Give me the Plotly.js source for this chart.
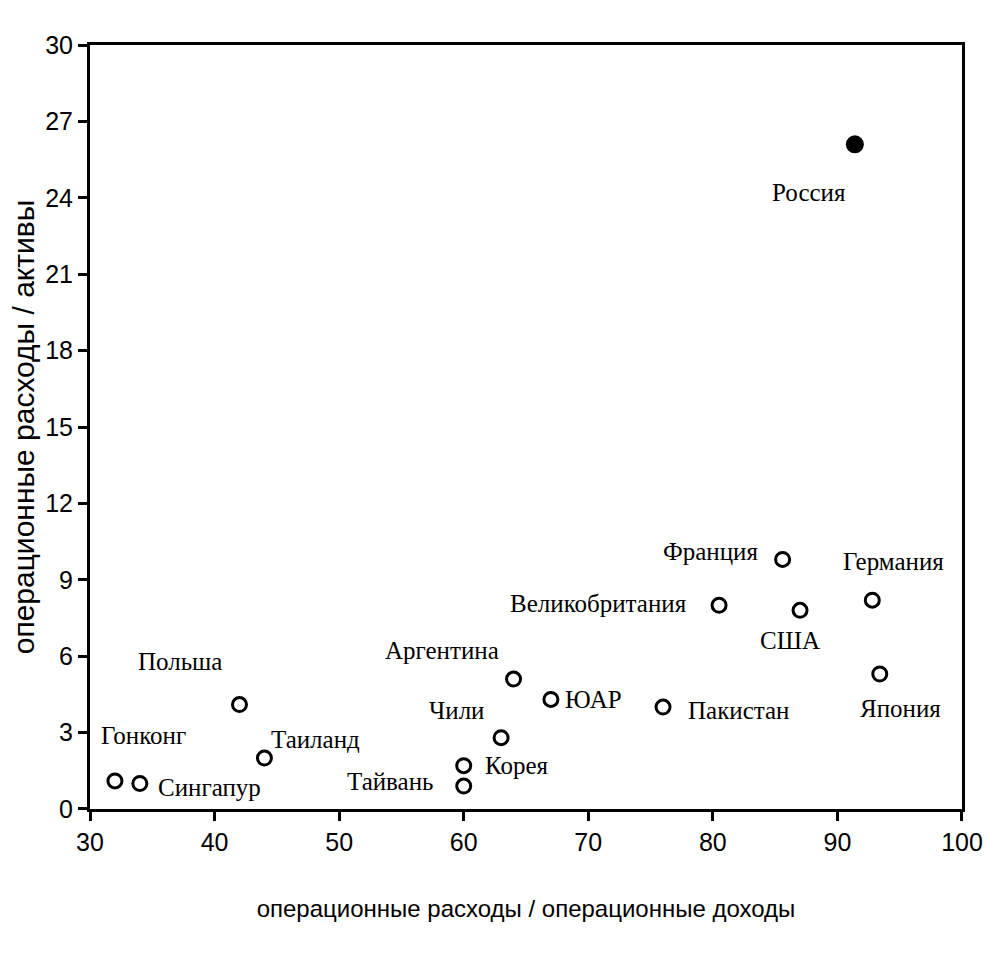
<!DOCTYPE html>
<html>
<head>
<meta charset="utf-8">
<script src="https://cdn.plot.ly/plotly-3.0.1.min.js"></script>
<style>html,body{margin:0;padding:0;background:#fff;}#chart{width:988px;height:958px;}</style>
</head>
<body>
<div id="chart"></div>
<script>
// ---- data ----
const countries = ['Гонконг','Сингапур','Польша','Таиланд','Тайвань','Корея','Чили','Аргентина','ЮАР','Пакистан','Великобритания','Франция','США','Германия','Япония'];
const costIncome = [32, 34, 42, 44, 60, 60, 63, 64, 67, 76, 80.5, 85.6, 87, 92.8, 93.4];
const costAssets = [1.1, 1.0, 4.1, 2.0, 0.9, 1.7, 2.8, 5.1, 4.3, 4.0, 8.0, 9.8, 7.8, 8.2, 5.3];
const russiaName = ['Россия'];
const russiaCostIncome = [91.4];
const russiaCostAssets = [26.1];
const xTicks = [30, 40, 50, 60, 70, 80, 90, 100];
const yTicks = [0, 3, 6, 9, 12, 15, 18, 21, 24, 27, 30];
const xTitle = 'операционные расходы / операционные доходы';
const yTitle = 'операционные расходы / активы';

// ---- label placement (style only) ----
const place = {
  'Россия': ['center', -46, 48],
  'Гонконг': ['center', 29, -45],
  'Сингапур': ['left', 16, 4],
  'Польша': ['center', -59, -43],
  'Таиланд': ['left', 5, -19],
  'Тайвань': ['right', -29, -5],
  'Корея': ['left', 19, 0],
  'Чили': ['center', -45, -27],
  'Аргентина': ['center', -72, -29],
  'ЮАР': ['left', 12, 0],
  'Пакистан': ['left', 23, 3],
  'Великобритания': ['right', -30, -2],
  'Франция': ['right', -23, -8],
  'США': ['center', -10, 30],
  'Германия': ['center', 21, -39],
  'Япония': ['center', 21, 34]
};

const serif = "'Liberation Serif', 'Times New Roman', serif";
const sans = "'Liberation Sans', Arial, sans-serif";

const traces = [
  {
    type: 'scatter', mode: 'markers',
    x: costIncome, y: costAssets, text: countries,
    marker: {symbol: 'circle-open', size: 14, color: '#000', line: {width: 3, color: '#000'}},
    cliponaxis: false, hoverinfo: 'text'
  },
  {
    type: 'scatter', mode: 'markers',
    x: russiaCostIncome, y: russiaCostAssets, text: russiaName,
    marker: {symbol: 'circle', size: 18, color: '#000'},
    cliponaxis: false, hoverinfo: 'text'
  }
];

function makeAnn(name, x, y) {
  const p = place[name];
  return {
    x: x, y: y, xref: 'x', yref: 'y', text: name, showarrow: false,
    xanchor: p[0], yanchor: 'middle', xshift: p[1], yshift: -p[2],
    font: {family: serif, size: 25, color: '#000'}
  };
}
const annotations = countries.map((c, i) => makeAnn(c, costIncome[i], costAssets[i]));
annotations.push(makeAnn(russiaName[0], russiaCostIncome[0], russiaCostAssets[0]));

const layout = {
  width: 988, height: 958,
  margin: {l: 90, r: 26, t: 45, b: 149},
  paper_bgcolor: '#fff', plot_bgcolor: '#fff',
  showlegend: false,
  xaxis: {
    range: [29.999, 100.001], tickvals: xTicks, ticktext: xTicks.map(String),
    showgrid: false, zeroline: false,
    showline: true, linewidth: 3, linecolor: '#000', mirror: true,
    ticks: 'outside', ticklen: 9, tickwidth: 3, tickcolor: '#000',
    ticklabeloverflow: 'allow',
    tickfont: {family: sans, size: 25, color: '#000'},
    title: {text: xTitle, font: {family: sans, size: 24, color: '#000'}, standoff: 46}
  },
  yaxis: {
    range: [-0.001, 30.001], tickvals: yTicks, ticktext: yTicks.map(String),
    showgrid: false, zeroline: false,
    showline: true, linewidth: 3, linecolor: '#000', mirror: true,
    ticks: 'outside', ticklen: 9, tickwidth: 3, tickcolor: '#000',
    ticklabeloverflow: 'allow',
    tickfont: {family: sans, size: 25, color: '#000'},
    title: {text: yTitle, font: {family: sans, size: 30, color: '#000'}, standoff: 2}
  },
  annotations: annotations
};

Plotly.newPlot('chart', traces, layout, {displayModeBar: false, staticPlot: true});
</script>
</body>
</html>
